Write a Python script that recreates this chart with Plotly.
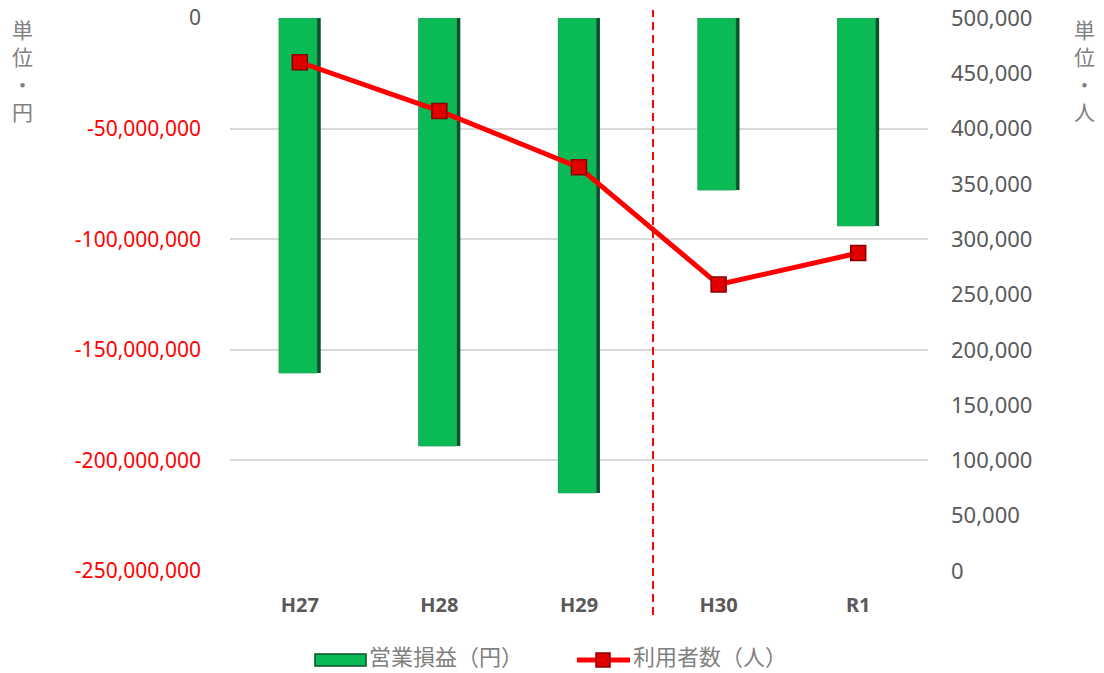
import plotly.graph_objects as go

categories = ["H27", "H28", "H29", "H30", "R1"]
operating_profit = [-160500000, -193500000, -214700000, -77800000, -94000000]
users = [460000, 416000, 365000, 259000, 287500]

left_ticks = [0, -50000000, -100000000, -150000000, -200000000, -250000000]
right_ticks = list(range(0, 500001, 50000))

def fmt_left(v):
    s = f"{v:,}"
    if v < 0:
        return f"<span style='color:#ff0000'>{s}</span>"
    return s

L, R, T, B = 230, 176, 18, 102
W, H = 1104, 673
PW, PH = W - L - R, H - T - B

def px(xp):
    return (xp - L) / PW

def py(yp):
    return (H - B - yp) / PH

fig = go.Figure()
# dark underlay for bevel look
fig.add_trace(go.Bar(
    x=categories, y=operating_profit, width=0.3, offset=-0.15,
    marker=dict(color="#07532a", line=dict(width=0)),
    showlegend=False, hoverinfo="skip", yaxis="y",
))
fig.add_trace(go.Bar(
    x=categories, y=operating_profit, name="営業損益（円）", width=0.27, offset=-0.148,
    marker=dict(color="#09ba55", line=dict(color="#2fa863", width=0.8)),
    showlegend=False, yaxis="y",
))
fig.add_trace(go.Scatter(
    x=categories, y=users, name="利用者数（人）", mode="lines+markers",
    line=dict(color="#ff0000", width=5),
    marker=dict(symbol="square", size=15, color="#e00000",
                line=dict(color="#8b0000", width=1.5)),
    showlegend=False, yaxis="y2",
))

fig.update_layout(
    width=W, height=H,
    margin=dict(l=L, r=R, t=T, b=B, autoexpand=False),
    paper_bgcolor="white", plot_bgcolor="white",
    font=dict(family="Noto Sans, sans-serif", color="#595959", size=21),
    barmode="overlay",
    xaxis=dict(
        type="category", showgrid=False, zeroline=False, showline=False,
        tickvals=categories, ticktext=[f"<b>{c}</b>" for c in categories],
        tickfont=dict(size=20, color="#595959", family="Noto Sans"),
        ticklabelstandoff=20, automargin=False,
    ),
    yaxis=dict(
        range=[-250000000, 0], tickvals=left_ticks,
        ticktext=[fmt_left(v) for v in left_ticks],
        showgrid=True, gridcolor="#d9d9d9", gridwidth=1.5,
        zeroline=False, showline=False,
        tickfont=dict(size=21, color="#595959"),
        ticks="", ticklabelstandoff=28, automargin=False,
    ),
    yaxis2=dict(
        range=[0, 500000], tickvals=right_ticks,
        ticktext=[f"{v:,}" for v in right_ticks],
        overlaying="y", side="right", showgrid=False, zeroline=False,
        tickfont=dict(size=22, color="#595959"),
        ticks="", ticklabelstandoff=22, automargin=False,
    ),
    showlegend=False,
)

fig.add_shape(
    type="line", xref="x", yref="paper",
    x0=2.53, x1=2.53, y0=py(615), y1=py(10),
    line=dict(color="#ff0000", width=2, dash="8px,5px"),
)

# vertical axis titles
for text, xp in (("単<br>位<br>・<br>円", 22), ("単<br>位<br>・<br>人", 1084)):
    fig.add_annotation(
        text=text, xref="paper", yref="paper", x=px(xp), y=py(12),
        xanchor="center", yanchor="top", showarrow=False,
        font=dict(size=21, color="#808080", family="Noto Sans CJK JP"),
    )

# custom legend
lb = py(672)
fig.add_shape(type="rect", xref="paper", yref="paper",
              x0=px(315), x1=px(366), y0=py(666), y1=py(654),
              fillcolor="#09ba55", line=dict(color="#07532a", width=1.5))
fig.add_annotation(text="営業損益（円）", xref="paper", yref="paper", x=px(368), y=lb,
                   xanchor="left", yanchor="bottom", showarrow=False, borderpad=0,
                   font=dict(size=22, color="#7f7f7f", family="Noto Sans CJK JP"))
fig.add_shape(type="line", xref="paper", yref="paper",
              x0=px(577), x1=px(630), y0=py(660), y1=py(660),
              line=dict(color="#ff0000", width=5))
fig.add_shape(type="rect", xref="paper", yref="paper",
              x0=px(596), x1=px(610), y0=py(667), y1=py(653),
              fillcolor="#e00000", line=dict(color="#8b0000", width=1.5))
fig.add_annotation(text="利用者数（人）", xref="paper", yref="paper", x=px(632), y=lb,
                   xanchor="left", yanchor="bottom", showarrow=False, borderpad=0,
                   font=dict(size=22, color="#7f7f7f", family="Noto Sans CJK JP"))

fig.write_html("out.html")
